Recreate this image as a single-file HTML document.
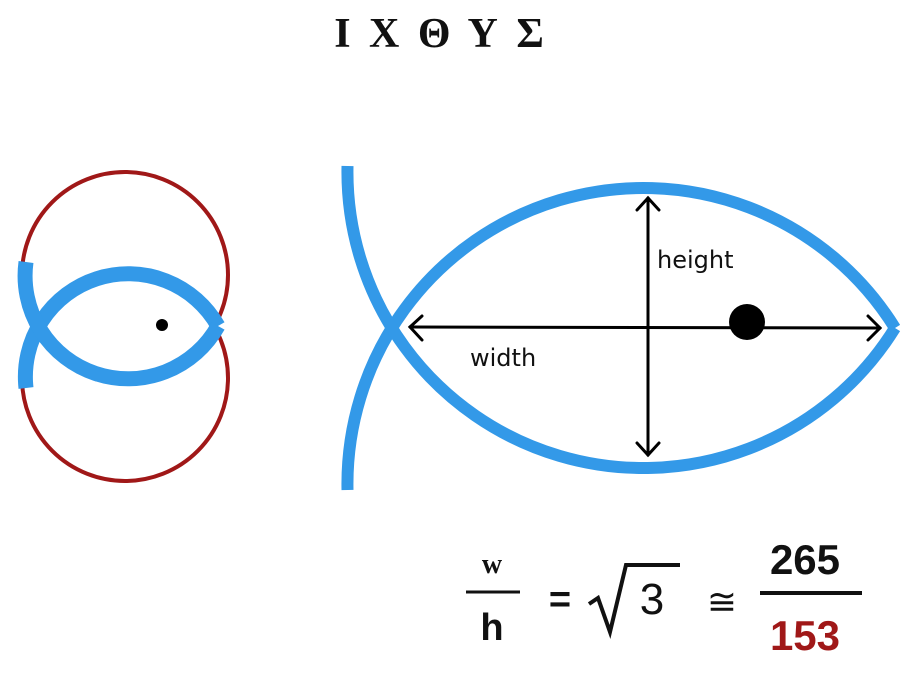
<!DOCTYPE html>
<html><head><meta charset="utf-8"><style>
html,body{margin:0;padding:0;background:#fff;}
svg{display:block;}
</style></head><body>
<svg width="902" height="674" viewBox="0 0 902 674" xmlns="http://www.w3.org/2000/svg">
<rect width="902" height="674" fill="#fff"/>
<text x="441" y="47" text-anchor="middle" font-family="Liberation Serif, serif" font-weight="bold" font-size="42" letter-spacing="4" fill="#111">Ι Χ Θ Υ Σ</text>

<!-- left small fish -->
<circle cx="125" cy="275" r="103" fill="none" stroke="#a01818" stroke-width="4"/>
<circle cx="125" cy="378" r="103" fill="none" stroke="#a01818" stroke-width="4"/>
<path d="M218 326 A103 103 0 0 0 26 388" fill="none" stroke="#3399e8" stroke-width="15"/>
<path d="M218 326 A103 103 0 0 1 26 262" fill="none" stroke="#3399e8" stroke-width="15"/>
<circle cx="162" cy="325" r="6" fill="#000"/>

<!-- right big fish -->
<path d="M895 328 A296 296 0 0 0 347.5 490" fill="none" stroke="#3399e8" stroke-width="12"/>
<path d="M895 328 A296 296 0 0 1 347.5 166" fill="none" stroke="#3399e8" stroke-width="12"/>
<g stroke="#000" stroke-width="3" fill="none" stroke-linecap="round">
<line x1="410" y1="327" x2="880" y2="328"/>
<polyline points="422,316 410,327 422,340"/>
<polyline points="868,316 880,328 868,340"/>
<line x1="648" y1="198" x2="648" y2="455"/>
<polyline points="637,210 648,198 659,210"/>
<polyline points="637,443 648,455 659,443"/>
</g>
<circle cx="747" cy="322" r="18" fill="#000"/>
<text x="657" y="268" font-family="DejaVu Sans, sans-serif" font-size="24" fill="#111">height</text>
<text x="470" y="366" font-family="DejaVu Sans, sans-serif" font-size="24" fill="#111">width</text>

<!-- formula -->
<g font-family="Liberation Sans, sans-serif" font-weight="bold" fill="#111">
<text x="492" y="573" text-anchor="middle" font-size="28" font-family="Liberation Serif, serif">w</text>
<line x1="466" y1="592" x2="520" y2="592" stroke="#111" stroke-width="3"/>
<text x="492" y="640" text-anchor="middle" font-size="38">h</text>
<text x="560" y="612" text-anchor="middle" font-size="38">=</text>
<path d="M589 604 L598 598 L610 632 L626 565 L680 565" fill="none" stroke="#111" stroke-width="4"/>
<text x="652" y="614" text-anchor="middle" font-size="44" font-weight="normal">3</text>
<text x="722" y="614" text-anchor="middle" font-size="36" font-weight="normal">≅</text>
<text x="805" y="574" text-anchor="middle" font-size="42">265</text>
<line x1="760" y1="593" x2="862" y2="593" stroke="#111" stroke-width="4"/>
<text x="805" y="650" text-anchor="middle" font-size="42" fill="#a01818">153</text>
</g>
</svg>
</body></html>
